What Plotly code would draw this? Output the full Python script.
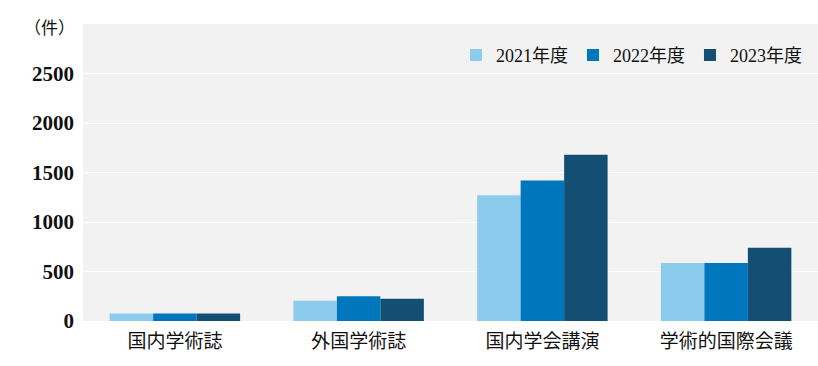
import plotly.graph_objects as go

categories = ["国内学術誌", "外国学術誌", "国内学会講演", "学術的国際会議"]
series_names = ["2021年度", "2022年度", "2023年度"]
v2021 = [75, 205, 1270, 585]
v2022 = [75, 250, 1420, 585]
v2023 = [75, 225, 1680, 740]
y_ticks = [0, 500, 1000, 1500, 2000, 2500]

colors = ["#8DCBED", "#0077BD", "#134F72"]
font_fam = "Liberation Serif, DejaVu Serif, Noto Sans CJK JP, serif"

fig = go.Figure()
for name, vals, c in zip(series_names, [v2021, v2022, v2023], colors):
    fig.add_trace(go.Bar(x=categories, y=vals, name=name, marker=dict(color=c, line=dict(width=0))))

fig.update_layout(
    width=818, height=366,
    margin=dict(l=83, r=0, t=24, b=45, autoexpand=False),
    paper_bgcolor="white",
    plot_bgcolor="#F2F2F2",
    barmode="group",
    bargap=0.29,
    bargroupgap=0,
    font=dict(family=font_fam, color="#111111"),
    legend=dict(orientation="h", x=0.985, xanchor="right", y=0.895, yanchor="middle",
                bgcolor="rgba(0,0,0,0)", font=dict(size=18, family=font_fam),
                itemwidth=30, traceorder="normal", tracegroupgap=0),
    showlegend=True,
)
fig.update_yaxes(range=[0, 3000], tickvals=y_ticks, ticktext=["<b>%d</b>" % t for t in y_ticks],
                 gridcolor="#FFFFFF", gridwidth=1, zeroline=False, automargin=False,
                 tickfont=dict(size=21, family=font_fam, color="#111111"), ticks="", ticklabelstandoff=8)
fig.update_xaxes(tickfont=dict(size=19, family=font_fam, color="#111111"), ticks="", showgrid=False,
                 automargin=False, ticklabelstandoff=7)
fig.add_annotation(text="（件）", xref="paper", yref="paper", x=-0.083, y=0.985,
                   xanchor="left", yanchor="middle", showarrow=False,
                   font=dict(size=17, family=font_fam, color="#111111"))

fig.write_html("out.html", config={"displayModeBar": False},
               post_script="document.body.style.margin='0';document.body.style.overflow='hidden';")
